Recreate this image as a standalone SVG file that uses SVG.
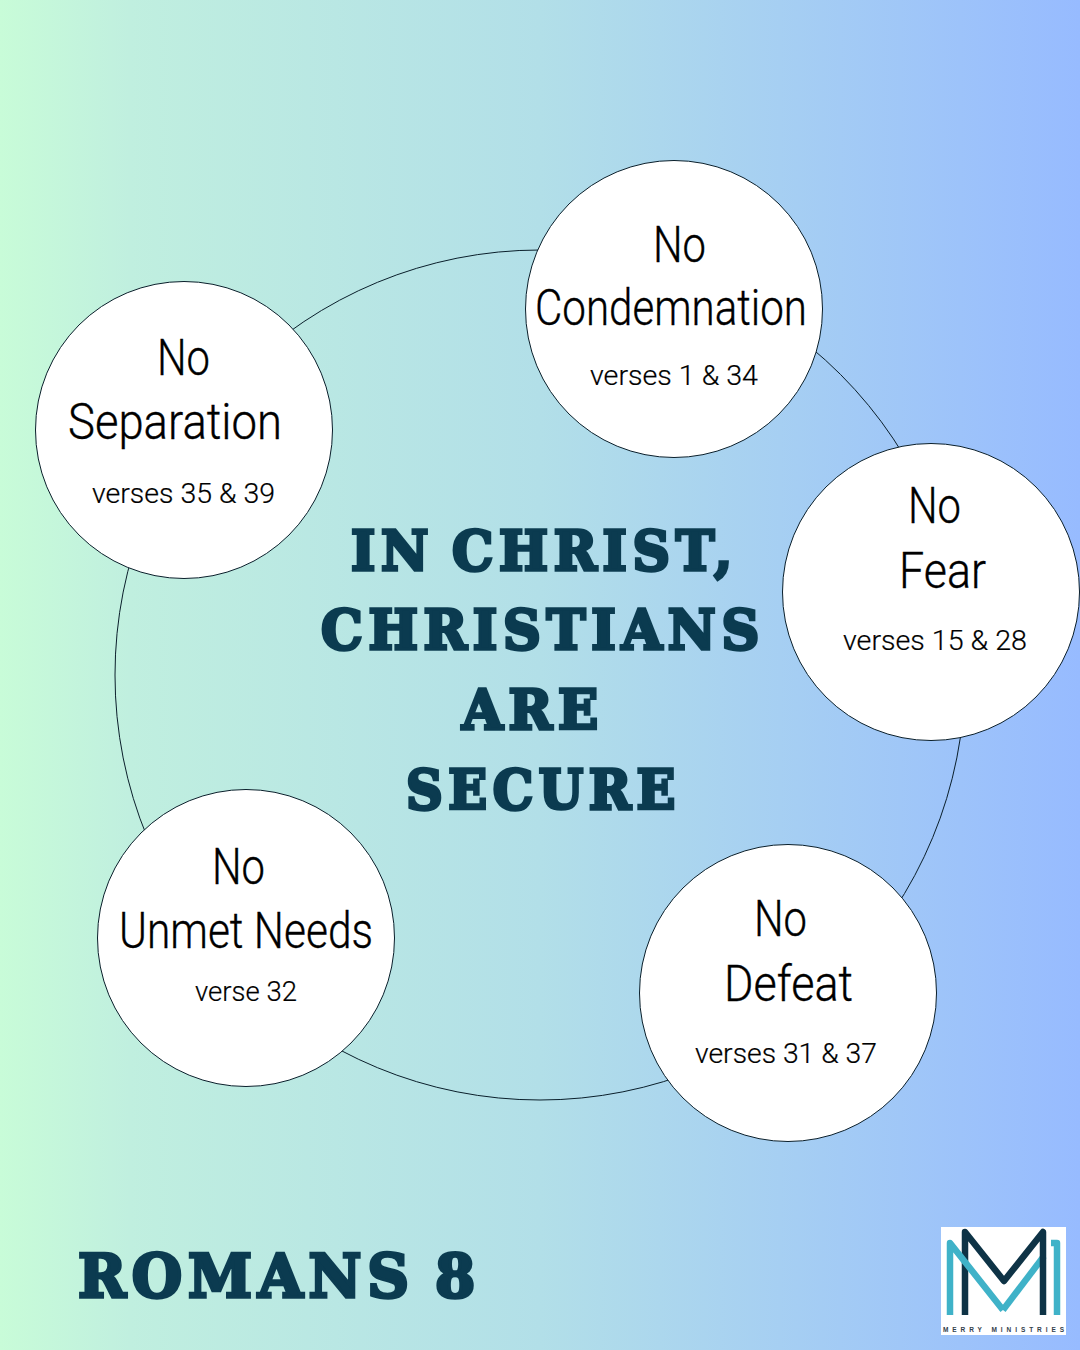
<svg xmlns="http://www.w3.org/2000/svg" width="1080" height="1350" viewBox="0 0 1080 1350">
<style>
.c{fill:#fff;stroke:#0a1f2b;stroke-width:1}
.h{font-family:"Roboto","Liberation Sans",sans-serif;font-size:50px;fill:#000;font-weight:300;stroke:#000;stroke-width:.35}
.v{font-family:"Roboto","Liberation Sans",sans-serif;font-size:27px;fill:#000;font-weight:300;stroke:#000;stroke-width:.2}
.t{font-family:"DejaVu Serif","Liberation Serif",serif;font-weight:700;font-size:55px;letter-spacing:6px;word-spacing:-6px;fill:#0b3b50;stroke:#0b3b50;stroke-width:3.4}
</style>
<defs><linearGradient id="bg" x1="0" x2="1" y1="0" y2="0"><stop offset="0" stop-color="#c8fcd8"/><stop offset=".12" stop-color="#c0efdf"/><stop offset=".5" stop-color="#b2dfe8"/><stop offset="1" stop-color="#97bbff"/></linearGradient></defs>
<rect width="1080" height="1350" fill="url(#bg)"/>
<g id="connectors"><circle cx="540" cy="675" r="425" fill="none" stroke="#0a1f2b" stroke-width="1"/></g>
<g id="node-condemnation"><circle class="c" cx="674" cy="309" r="148.5"/>
<text class="h" x="653" y="262" textLength="53" lengthAdjust="spacingAndGlyphs">No</text>
<text class="h" x="535" y="325" textLength="272" lengthAdjust="spacingAndGlyphs">Condemnation</text>
<text class="v" x="590" y="385" textLength="168" lengthAdjust="spacingAndGlyphs">verses 1 &amp; 34</text></g>
<g id="node-fear"><circle class="c" cx="931" cy="592" r="148.5"/>
<text class="h" x="908" y="523" textLength="53" lengthAdjust="spacingAndGlyphs">No</text>
<text class="h" x="899" y="588" textLength="87" lengthAdjust="spacingAndGlyphs">Fear</text>
<text class="v" x="843" y="650" textLength="184" lengthAdjust="spacingAndGlyphs">verses 15 &amp; 28</text></g>
<g id="node-defeat"><circle class="c" cx="788" cy="993" r="148.5"/>
<text class="h" x="754" y="936" textLength="53" lengthAdjust="spacingAndGlyphs">No</text>
<text class="h" x="724" y="1001" textLength="129" lengthAdjust="spacingAndGlyphs">Defeat</text>
<text class="v" x="695" y="1063" textLength="182" lengthAdjust="spacingAndGlyphs">verses 31 &amp; 37</text></g>
<g id="node-unmet"><circle class="c" cx="246" cy="938" r="148.5"/>
<text class="h" x="212" y="884" textLength="53" lengthAdjust="spacingAndGlyphs">No</text>
<text class="h" x="119" y="948" textLength="254" lengthAdjust="spacingAndGlyphs">Unmet Needs</text>
<text class="v" x="195" y="1001" textLength="102" lengthAdjust="spacingAndGlyphs">verse 32</text></g>
<g id="node-separation"><circle class="c" cx="184" cy="430" r="148.5"/>
<text class="h" x="157" y="375" textLength="53" lengthAdjust="spacingAndGlyphs">No</text>
<text class="h" x="68" y="439" textLength="214" lengthAdjust="spacingAndGlyphs">Separation</text>
<text class="v" x="92" y="503" textLength="183" lengthAdjust="spacingAndGlyphs">verses 35 &amp; 39</text></g>
<g id="title">
<text class="t" x="351" y="570" textLength="387" lengthAdjust="spacingAndGlyphs">IN CHRIST,</text>
<text class="t" x="321" y="649" textLength="444" lengthAdjust="spacingAndGlyphs">CHRISTIANS</text>
<text class="t" x="462" y="729" textLength="142" lengthAdjust="spacingAndGlyphs">ARE</text>
<text class="t" x="406" y="809" textLength="275" lengthAdjust="spacingAndGlyphs">SECURE</text>
<text class="t" x="78" y="1297" textLength="403" lengthAdjust="spacingAndGlyphs" style="font-size:60px">ROMANS 8</text>
</g>
<g id="logo">
<rect x="941" y="1227" width="125" height="108" fill="#fff"/>
<g fill="none" stroke-width="6.5" stroke-linejoin="round" stroke-linecap="butt">
<path d="M1003 1310L1044 1256" stroke="#3fb2c8"/>
<path d="M965 1315V1232L1004 1281L1043 1232V1315" stroke="#0e3346"/>
<path d="M950 1315V1243L1003 1310" stroke="#3fb2c8"/>
<path d="M1051 1243H1057V1315" stroke="#3fb2c8"/>
</g>
<text x="943" y="1332" textLength="121" font-family="Liberation Sans, sans-serif" font-size="6.5" font-weight="700" fill="#33414c">MERRY MINISTRIES</text>
</g>
</svg>
